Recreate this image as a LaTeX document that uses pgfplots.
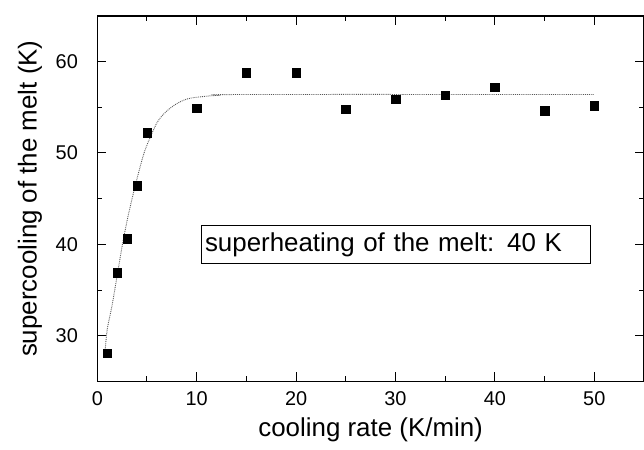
\documentclass[border=0pt]{standalone}
\usepackage{pgfplots}
\pgfplotsset{compat=1.18}
\usepackage{fontspec}
\setmainfont{Liberation Sans}
\begin{document}
\begin{tikzpicture}
\begin{axis}[
  name=ax,
  scale only axis,
  width=549pt, height=367pt,
  xmin=0, xmax=55,
  ymin=25, ymax=65,
  xtick={0,10,20,30,40,50},
  ytick={30,40,50,60},
  minor tick num=1,
  tick align=inside,
  major tick length=9pt,
  minor tick length=5pt,
  tick style={black, line width=1pt},
  axis line style={black, line width=1.2pt},
  /pgf/number format/assume math mode=true,
  ticklabel style={font=\fontsize{20}{22}\selectfont},
  yticklabel style={xshift=-16pt},
  xticklabel style={yshift=-7pt},
  clip=false,
]
% fit curve (dotted)
\addplot[gray!70!black, line width=0.9pt, densely dotted, smooth] coordinates {
  (0.8,28.5) (1.0,30.7) (1.5,33.4) (2.0,36.6) (2.5,39.8) (3.0,42.6)
  (3.5,45.0) (4.0,47.2) (4.8,50.3) (6.0,53.3) (7.0,54.6) (8.0,55.4)
  (9.0,55.9) (10.0,56.1) (12.0,56.3) (15.0,56.4) (50.0,56.4)
};
% measured points
\addplot[only marks, mark=square*, mark size=4.3pt, black] coordinates {
  (1,28.1) (2,36.9) (3,40.6) (4,46.4) (5,52.2) (10,54.9) (15,58.8)
  (20,58.8) (25,54.8) (30,55.9) (35,56.3) (40,57.2) (45,54.6) (50,55.2)
};
\node[draw, line width=0.8pt, anchor=west, inner xsep=4pt,
      text width=383pt, align=left, minimum height=38pt,
      font=\fontsize{26}{28}\selectfont]
  at (axis cs:10.4,40) {superheating of the melt: 40 K};
\end{axis}
\node[rotate=90, font=\fontsize{26}{28}\selectfont]
  at ([xshift=-67.7pt]ax.west) {supercooling of the melt (K)};
\node[font=\fontsize{26}{28}\selectfont]
  at ([yshift=-49pt]ax.south) {cooling rate (K/min)};
\pgfresetboundingbox
\path ([xshift=-97.7pt,yshift=-68pt]ax.south west)
  rectangle ([yshift=16pt]ax.north east);
\end{tikzpicture}
\end{document}
